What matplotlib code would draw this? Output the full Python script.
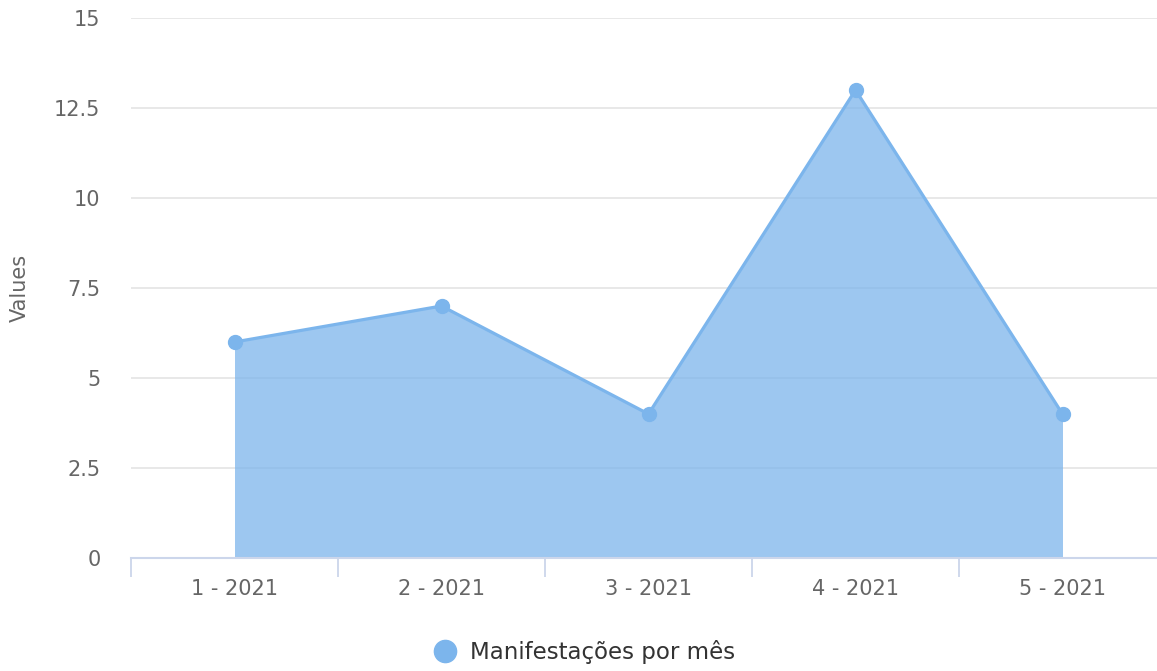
import numpy as np
import matplotlib
matplotlib.use("Agg")
import matplotlib.pyplot as plt
from matplotlib.lines import Line2D

plt.rcParams['font.family'] = ['DejaVu Sans']

categories = ['1 - 2021', '2 - 2021', '3 - 2021', '4 - 2021', '5 - 2021']
values = [6, 7, 4, 13, 4]
series_name = 'Manifestações por mês'
yticks = [0, 2.5, 5, 7.5, 10, 12.5, 15]
ytick_labels = ['0', '2.5', '5', '7.5', '10', '12.5', '15']

COL = '#7cb5ec'
W, H = 1157, 671
fig = plt.figure(figsize=(W/100, H/100), dpi=100)
left, right = 131, 1166
bot, top = 558, 18
ax = fig.add_axes([left/W, (H-bot)/H, (right-left)/W, (bot-top)/H])

x = np.arange(len(categories))
ax.fill_between(x, 0, values, color=COL, alpha=0.75, linewidth=0, zorder=2)
ax.plot(x, values, color=COL, lw=2.3, marker='o', ms=10, mec=COL, mfc=COL, zorder=3, clip_on=False)

ax.set_xlim(-0.5, len(categories)-0.5)
ax.set_ylim(0, 15)
ax.set_yticks(yticks)
ax.set_yticklabels(ytick_labels)
ax.set_xticks(x)
ax.set_xticklabels(categories)
ax.set_xticks(np.arange(len(categories)) - 0.5, minor=True)
ax.tick_params(axis='x', which='major', length=0, pad=15, labelsize=15, labelcolor='#666666')
ax.tick_params(axis='x', which='minor', length=14, width=1.3, color='#ccd6eb')
ax.tick_params(axis='y', length=0, pad=22, labelsize=15, labelcolor='#666666')
ax.grid(axis='y', color='#e6e6e6', lw=1.3, zorder=0)
ax.set_axisbelow(True)
for s in ['top', 'right', 'left']:
    ax.spines[s].set_visible(False)
ax.spines['bottom'].set_color('#ccd6eb')
ax.spines['bottom'].set_linewidth(1.5)
ax.spines['bottom'].set_zorder(4)

fig.text(20/W, 1-288/H, 'Values', rotation=90, ha='center', va='center', fontsize=15, color='#666666')

fig.legend(handles=[Line2D([], [], ls='none', marker='o', ms=16, color=COL)], labels=[series_name],
           loc='center', bbox_to_anchor=(583/W, 1-652/H), frameon=False, fontsize=16.5,
           labelcolor='#333333', handletextpad=0.5, handlelength=1.2)

fig.savefig('out.png', dpi=100)
